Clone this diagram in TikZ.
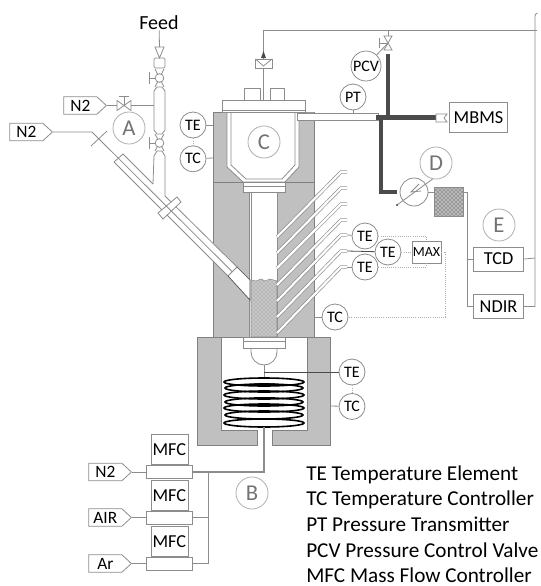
\documentclass[tikz,border=0pt]{standalone}
\usepackage{fontspec}
\setmainfont{Carlito}
\usetikzlibrary{positioning, patterns, shapes.symbols}
\definecolor{wiregray}{RGB}{140, 140, 140}
\definecolor{ovengray}{RGB}{192, 192, 192}
\definecolor{ovenedge}{RGB}{128, 128, 128}
\definecolor{pipedark}{RGB}{75, 75, 75}
\definecolor{lettergray}{RGB}{115, 115, 115}

\begin{document}
\begin{tikzpicture}[
  x=0.75pt, y=-0.75pt,
  wire/.style={draw=wiregray, line width=0.6pt},
  dotwire/.style={draw=wiregray!70, line width=0.6pt, densely dotted},
  oven/.style={fill=ovengray, draw=ovenedge, line width=0.6pt},
  vessel/.style={fill=white, draw=wiregray, line width=0.6pt},
  pipe/.style={draw=pipedark, line width=3.3pt},
  probe/.style={draw=wiregray, double=white, double distance=1.6pt, line width=0.5pt},
  coil/.style={draw=black, line width=1.2pt},
  inst/.style={circle, draw=wiregray, fill=white, line width=0.6pt, inner sep=0pt,
               minimum size=19.5pt, font=\fontsize{12}{12}\selectfont},
  zone/.style={circle, draw=wiregray!70, line width=0.6pt, inner sep=0pt,
               minimum size=24pt, text=lettergray, font=\fontsize{17}{17}\selectfont},
  unitbox/.style={rectangle, draw=wiregray, fill=white, line width=0.6pt, inner sep=0pt,
               font=\fontsize{13.7}{13.7}\selectfont},
  mfcbar/.style={rectangle, draw=wiregray, fill=white, line width=0.6pt,
               minimum width=34.5pt, minimum height=9.75pt, inner sep=0pt},
  tag/.style={signal, signal to=east, signal pointer angle=85, draw=wiregray, line width=0.6pt,
               anchor=east, minimum width=32pt, minimum height=13pt, inner xsep=1pt, inner ysep=0pt,
               font=\fontsize{13}{13}\selectfont},
  legend/.style={anchor=west, inner sep=0pt, text height=10pt, text depth=2pt,
               font=\fontsize{15.9}{15.9}\selectfont}
]
  \useasboundingbox (0,0) rectangle (540,586);

  % upper furnace and chamber
  \draw[oven] (213,112) rectangle (314,337);
  \draw[draw=ovenedge] (213,182) -- (314,182);
  \fill[ovenedge!80] (299,112) rectangle (314,115);
  \draw[vessel] (227,112) -- (227,167) -- (243,182) -- (285,182) -- (299,167) -- (299,112) -- cycle;
  \draw[wire] (231,112) -- (231,165) -- (246,179) -- (282,179) -- (295,165) -- (295,112);
  \draw[vessel] (243,182) rectangle (285,192);
  \draw[wire] (243,186) -- (285,186);
  \draw[vessel] (249,192) rectangle (277,337);
  \draw[wire] (251,192) -- (251,337);
  \fill[gray!45] (251,337) -- (251,280) -- (256,281) -- (261,279) -- (265,281) -- (270,279) -- (277,281) -- (277,337) -- cycle;
  \draw[draw=wiregray, pattern=crosshatch dots, pattern color=gray!90] (251,337) -- (251,280) -- (256,281) -- (261,279) -- (265,281) -- (270,279) -- (277,281) -- (277,337) -- cycle;

  % lid
  \draw[wire] (244,100) rectangle (260,88);
  \draw[wire] (270,100) rectangle (284,88);
  \draw[vessel] (222,100) rectangle (305,112);
  \draw[wire] (222,110) -- (305,110);

  % side port
  \fill[white] (114,162) -- (228,276) -- (250,300) -- (250,280) -- (237,267) -- (123,154) -- cycle;
  \draw[wire] (114,162) -- (228,276);
  \draw[wire] (114,162) -- (123,154) -- (153,184);
  \draw[wire] (165,196) -- (237,267) -- (228,276);
  \draw[draw=pipedark, line width=0.5pt] (228,276) -- (250,300) -- (250,280) -- (237,267);
  \draw[vessel] (158,213) -- (177,197) -- (181,202) -- (163,219) -- cycle;

  % feed column
  \draw[wire] (153,184) -- (154,156) -- (157,151) -- (162,151) -- (165,156) -- (165,196);
  \draw[vessel] (154,130) -- (154,91) -- (157,87) -- (162,87) -- (165,91) -- (165,130) -- (162,134) -- (157,134) -- cycle;
  \draw[wire] (155,69) -- (164,87) (164,69) -- (155,87);
  \draw[wire] (155,134) -- (164,151) (164,134) -- (155,151);
  \node[circle, draw=wiregray, fill=white, line width=0.6pt, inner sep=0pt, minimum size=6.5pt] (ballup) at (159.5,78) {};
  \node[circle, draw=wiregray, fill=white, line width=0.6pt, inner sep=0pt, minimum size=6.5pt] (balldown) at (159.5,143) {};
  \coordinate (stemup) at (149,78);
  \coordinate (stemdown) at (149,143);
  \draw[wire] (ballup) -- (stemup);
  \draw[wire] (balldown) -- (stemdown);
  \draw[wire] (149,72) -- (149,84);
  \draw[wire] (149,137) -- (149,149);
  \draw[wire, rounded corners=1pt] (154,58) rectangle (165,68);
  \draw[wire] (155,47) -- (164,47) -- (159.5,58) -- cycle;

  \node[font=\fontsize{15}{15}\selectfont, inner sep=0pt] (feed) at (159,23) {Feed};
  \coordinate (feedtip) at (159.5,47);
  \draw[wire] (feed) -- (feedtip);

  % nitrogen lines
  \node[tag] (ntop) at (107,105.5) {N2};
  \node[tag] (nside) at (53,132) {N2};
  \coordinate (valveleft) at (117,105.5);
  \coordinate (valveright) at (131,105.5);
  \coordinate (columnleft) at (154,105.5);
  \draw[wire] (ntop.east) -- (valveleft);
  \draw[wire] (117,100.5) -- (131,110.5) -- (131,100.5) -- (117,110.5) -- cycle;
  \draw[wire] (124,105.5) -- (124,96) (119,96) -- (129,96);
  \draw[wire] (valveright) -- (columnleft);
  \coordinate (nbend) at (92,132);
  \coordinate (nend) at (232,271.5);
  \draw[wire] (nside.east) -- (nbend) -- (nend);
  \draw[wire] (91,146) -- (107,131);

  % thermocouple probes
  \draw[probe] (277,237) -- (341,172) -- (347,172);
  \draw[probe] (277,253) -- (341,188) -- (347,188);
  \draw[probe] (277,268) -- (341,204) -- (347,204);
  \draw[probe] (277,285) -- (341,220) -- (347,220);
  \draw[probe] (277,301) -- (341,235) -- (347,235);
  \draw[probe] (277,317) -- (341,251) -- (347,251);
  \draw[probe] (277,333) -- (341,267) -- (347,267);

  % lower furnace
  \draw[oven] (197,337) -- (330,337) -- (330,445) -- (272,445) -- (272,430) -- (307,430) -- (307,337) -- (221,337) -- (221,430) -- (257,430) -- (257,445) -- (197,445) -- cycle;
  \draw[vessel] (243,337) rectangle (285,348);
  \draw[wire] (243,341) -- (285,341);
  \draw[wire] (251,348) -- (251,352) arc[start angle=180, end angle=0, x radius=13, y radius=13] -- (277,348);

  % coil
  \draw[wire] (264,365) -- (264,378);
  \draw[draw=pipedark, line width=1.6pt] (254,384) -- (275,384);
  \draw[draw=black, line width=1.4pt] (254,398) -- (275,398);
  \draw[draw=black, line width=1.4pt] (254,405) -- (275,405);
  \draw[draw=black, line width=1.4pt] (254,419) -- (275,419);
  \draw[coil] (264,382) ellipse [x radius=40, y radius=4];
  \draw[coil] (264,388) ellipse [x radius=39, y radius=4];
  \draw[coil] (264,395) ellipse [x radius=40, y radius=4];
  \draw[coil] (264,402) ellipse [x radius=39, y radius=4];
  \draw[coil] (264,408) ellipse [x radius=40, y radius=4];
  \draw[coil] (264,415) ellipse [x radius=39, y radius=4];
  \draw[coil] (264,423) ellipse [x radius=40, y radius=4];

  % gas mixing
  \node[tag] (tagn) at (132,472) {N2};
  \node[tag] (tagair) at (132,517.5) {AIR};
  \node[tag] (tagar) at (132,563.5) {Ar};
  \node[mfcbar, right=10.5pt of tagn.east] (barn) {};
  \node[mfcbar, right=10.5pt of tagair.east] (barair) {};
  \node[mfcbar, right=10.5pt of tagar.east] (barar) {};
  \node[unitbox, above=0pt of barn, minimum width=27.75pt, minimum height=22.5pt] (mfcn) {MFC};
  \node[unitbox, above=0pt of barair, minimum width=27.75pt, minimum height=22pt] (mfcair) {MFC};
  \node[unitbox, above=0pt of barar, minimum width=27.75pt, minimum height=22.5pt] (mfcar) {MFC};
  \draw[wire] (tagn.east) -- (barn);
  \draw[wire] (tagair.east) -- (barair);
  \draw[wire] (tagar.east) -- (barar);
  \coordinate (furnacein) at (264,427);
  \coordinate (mixtee) at (208,472);
  \draw[draw=wiregray, line width=0.9pt] (barn.east) -- (barn.east -| furnacein) -- (furnacein);
  \draw[wire] (mixtee) -- (mixtee |- barar.east) -- (barar.east);
  \draw[wire] (barair.east) -- (barair.east -| mixtee);

  % exit lines
  \coordinate (pipeup) at (388,54);
  \coordinate (pipetee) at (388,117.5);
  \coordinate (pipeleft) at (376,117.5);
  \coordinate (piperight) at (436,117.5);
  \coordinate (pipebend) at (381,192);
  \coordinate (pipeend) at (397,192);
  \draw[draw=wiregray, fill=white, line width=0.5pt] (297,113) rectangle (378,120);
  \draw[pipe] (pipeup) -- (pipetee);
  \draw[pipe] (pipeleft) -- (piperight);
  \draw[pipe] (pipeleft -| pipebend) -- (pipebend) -- (pipeend);

  \node[unitbox, minimum width=44pt, minimum height=23pt] (mbms) at (478.5,117.5) {MBMS};
  \draw[wire] (436,114) -- (447,114) -- (444,118) -- (447,122) -- (436,122) -- cycle;

  % control valve and top line
  \coordinate (toptee) at (263.5,30);
  \coordinate (topvalve) at (388,30);
  \coordinate (topend) at (537,30);
  \draw[wire] (toptee) -- (topend);
  \draw[wire] (topvalve) -- (388,36);
  \draw[wire] (384,36) -- (392,36) -- (384,50) -- (392,50) -- cycle;
  \draw[wire] (388,43) -- (379,43) (379,38) -- (379,48);
  \draw[wire] (toptee) -- (263.5,59);
  \draw[draw=wiregray, line width=0.8pt] (263.5,68) -- (263.5,100);
  \draw[wire] (255.5,59) rectangle (272,68);
  \draw[wire] (255.5,59) -- (263.5,66) -- (272,59);
  \fill[pipedark] (261,58) -- (266,58) -- (263.5,51) -- cycle;

  % instruments
  \node[inst] (tel) at (193,125) {TE};
  \node[inst, below=5.25pt of tel] (tcl) {TC};
  \node[inst] (pt) at (353,97) {PT};
  \node[inst, minimum size=22.5pt] (pcv) at (366,66) {PCV};
  \node[inst] (tea) at (365,236) {TE};
  \node[inst] (teb) at (388,252) {TE};
  \node[inst] (tec) at (365,267) {TE};
  \node[inst] (tcm) at (335,317) {TC};
  \node[inst] (tef) at (352,372) {TE};
  \node[inst, below=5.75pt of tef] (tcf) {TC};
  \node[unitbox, minimum width=21.75pt, minimum height=16.5pt, font=\fontsize{10.5}{10.5}\selectfont] (max) at (426.5,252) {MAX};

  \coordinate (ovenl) at (213,125);
  \coordinate (ovenlb) at (213,158);
  \coordinate (ovenm) at (314,317);
  \coordinate (ovenf) at (330,406);
  \coordinate (shaft) at (264,372);
  \coordinate (tipa) at (347,235);
  \coordinate (tipb) at (347,251);
  \coordinate (tipc) at (347,267);
  \coordinate (ptin) at (353,114);
  \coordinate (pcvin) at (388,43);
  \draw[wire] (tel) -- (ovenl);
  \draw[wire] (tcl) -- (ovenlb);
  \draw[dotwire] (tel) -- (tcl);
  \draw[wire] (tcm) -- (ovenm);
  \draw[wire] (tcf) -- (ovenf);
  \draw[dotwire] (tef) -- (tcf);
  \draw[draw=pipedark, line width=0.6pt] (tef) -- (shaft);
  \draw[wire] (tea) -- (tipa);
  \draw[draw=pipedark, line width=0.6pt] (teb) -- (tipb);
  \draw[wire] (tec) -- (tipc);
  \draw[wire] (pt) -- (ptin);
  \draw[wire] (pcv) -- (pcvin);
  \draw[dotwire] (tea.east) -| (max.north);
  \draw[dotwire] (tec.east) -| (max.south);
  \draw[dotwire] (teb) -- (max);
  \draw[dotwire] (max.east) -- ++(4,0) |- (tcm.east);

  % condenser, filter, analysers
  \node[circle, draw=wiregray, fill=white, line width=0.6pt, inner sep=0pt, minimum size=21pt] (cooler) at (414,192) {};
  \coordinate (coolerin) at (434,178);
  \coordinate (coolerout) at (397,205);
  \draw[wire] (coolerin) -- (coolerout);
  \draw[wire] (419,184) -- (411,192) -- (421,191);
  \fill[pipedark] (coolerout) circle (0.8pt);
  \fill[gray!55] (434,187) rectangle (463,216);
  \node[rectangle, draw=wiregray, pattern=crosshatch dots, pattern color=black!80, inner sep=0pt, minimum size=21.75pt] (trap) at (448.5,201.5) {};
  \node[unitbox, minimum width=38pt, minimum height=18pt] (tcd) at (498.5,259) {TCD};
  \node[unitbox, minimum width=38pt, minimum height=17.5pt] (ndir) at (498.5,306.5) {NDIR};
  \coordinate (trapout) at (463,192);
  \coordinate (riser) at (467,192);
  \coordinate (topright) at (535,258);
  \draw[wire] (cooler) -- (trap.west |- cooler);
  \draw[wire] (trapout) -- (riser) |- (ndir.west);
  \draw[wire] (riser |- tcd.west) -- (tcd.west);
  \draw[wire] (tcd.east) -- (topright);
  \draw[wire] (ndir.east) -- (ndir.east -| topright) -- (535,16) to[out=90, in=200] (537.5,13);

  % zone letters
  \node[zone] (zonea) at (129,128) {A};
  \node[zone] (zoneb) at (252,493) {B};
  \node[zone, fill=white] (zonec) at (264,142) {C};
  \node[zone, fill=white] (zoned) at (436,163) {D};
  \node[zone] (zonee) at (499,225) {E};

  % key
  \node[legend] (keyte) at (306,475) {TE Temperature Element};
  \node[legend, below=6.8pt of keyte.south west, anchor=north west] (keytc) {TC Temperature Controller};
  \node[legend, below=6.8pt of keytc.south west, anchor=north west] (keypt) {PT Pressure Transmitter};
  \node[legend, below=6.8pt of keypt.south west, anchor=north west] (keypcv) {PCV Pressure Control Valve};
  \node[legend, below=6.8pt of keypcv.south west, anchor=north west] (keymfc) {MFC Mass Flow Controller};
\end{tikzpicture}
\end{document}
